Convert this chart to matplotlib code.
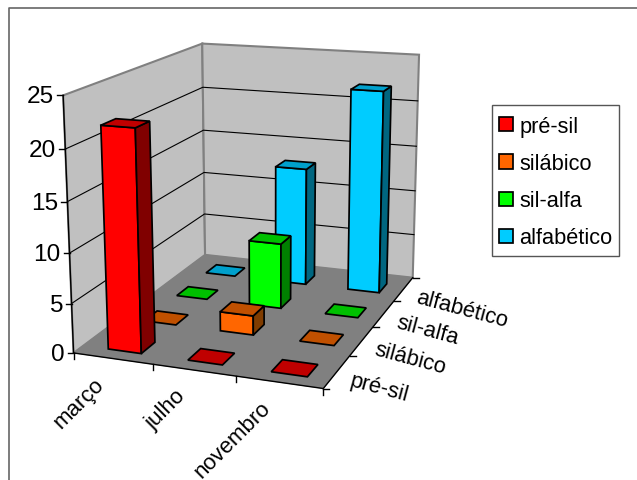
import numpy as np
import matplotlib
matplotlib.use("Agg")
import matplotlib.pyplot as plt
from matplotlib.patches import Polygon, Patch, Rectangle

plt.rcParams['font.family'] = ['Liberation Sans', 'DejaVu Sans']

months = ['março', 'julho', 'novembro']
levels = ['pré-sil', 'silábico', 'sil-alfa', 'alfabético']
z_ticks = [0, 5, 10, 15, 20, 25]

pre_sil = [22, 0, 0]
silabico = [0, 2, 0]
sil_alfa = [0, 7, 0]
alfabetico = [0, 13, 22]
series = [pre_sil, silabico, sil_alfa, alfabetico]

front_colors = ['#FF0000', '#FF6600', '#00FF00', '#00CCFF']
top_colors = ['#C00000', '#C05000', '#00C000', '#00A0CC']
side_colors = ['#800000', '#803C00', '#008000', '#006680']

Z_MAX = 25.0
BAR_W = 0.42
BAR_D = 0.38
# bars sit slightly off the cell centre
X_CENTER = 0.53
Y_CENTER = 0.44

# box corners on the canvas, in pixels: (x, y, z) -> (u, v)
corners = [
    ((0, 0, 0), (73, 354)), ((1, 0, 0), (323, 390)),
    ((0, 1, 0), (205, 256)), ((1, 1, 0), (413, 278)),
    ((0, 0, 1), (63, 96)), ((0, 1, 1), (202, 44)),
    ((1, 1, 1), (419, 56)),
    ((0, 0, 0.6), (68, 203)), ((0, 0, 0.2), (72, 304)),
    ((0, 1, 0.6), (203.5, 132)), ((0, 1, 0.2), (204.5, 215)),
]


def fit_camera(pairs):
    A, b = [], []
    for (x, y, z), (u, v) in pairs:
        A.append([x, y, z, 1, 0, 0, 0, 0, -u * x, -u * y, -u * z])
        A.append([0, 0, 0, 0, x, y, z, 1, -v * x, -v * y, -v * z])
        b += [u, v]
    m = np.linalg.lstsq(np.array(A, float), np.array(b, float), rcond=None)[0]
    return np.append(m, 1.0).reshape(3, 4)


P = fit_camera(corners)


def proj(x, y, z=0.0):
    h = P @ np.array([x, y, z, 1.0])
    return h[0] / h[2], h[1] / h[2]


def face(ax, pts, fc, ec='black', lw=1.25, zorder=2):
    ax.add_patch(Polygon([proj(*p) for p in pts], closed=True, facecolor=fc,
                         edgecolor=ec, linewidth=lw, joinstyle='miter', zorder=zorder))


fig = plt.figure(figsize=(6.37, 4.81), dpi=100)
ax = fig.add_axes([0, 0, 1, 1])
ax.set_xlim(0, 637)
ax.set_ylim(481, 0)
ax.axis('off')

# outer frame
ax.plot([9, 9, 637], [481, 9, 9], color='#666666', lw=1.2, zorder=1)

# walls and floor
face(ax, [(0, 0, 0), (0, 1, 0), (0, 1, 1), (0, 0, 1)], '#C0C0C0', ec='#808080', lw=1.5, zorder=1)
face(ax, [(0, 1, 0), (1, 1, 0), (1, 1, 1), (0, 1, 1)], '#C0C0C0', ec='#808080', lw=1.5, zorder=1)
face(ax, [(0, 0, 0), (1, 0, 0), (1, 1, 0), (0, 1, 0)], '#808080', ec='#808080', lw=0.5, zorder=1)

# gridlines on the two walls
for t in z_ticks[1:-1]:
    z = t / Z_MAX
    pts = [proj(0, 0, z), proj(0, 1, z), proj(1, 1, z)]
    ax.plot(*zip(*pts), color='black', lw=0.8, zorder=1.5)

# axis lines
ax.plot(*zip(proj(0, 0, 0), proj(0, 0, 1)), color='black', lw=1.0, zorder=1.6)
ax.plot(*zip(proj(0, 0, 0), proj(1, 0, 0), proj(1, 1, 0)), color='black', lw=1.0, zorder=1.6)

# value axis ticks and labels
for t in z_ticks:
    u, v = proj(0, 0, t / Z_MAX)
    ax.plot([u - 6, u], [v, v], color='black', lw=1.0, zorder=1.6)
    ax.text(u - 9, v + 1, str(t), ha='right', va='center', fontsize=17.6)

# month axis
for i in range(len(months) + 1):
    u, v = proj(i / len(months), 0)
    ax.plot([u, u], [v, v + 6], color='black', lw=1.0, zorder=1.6)
for i, name in enumerate(months):
    u, v = proj((i + 0.5) / len(months), 0)
    ax.text(u - 12, v + 22, name, rotation=45, rotation_mode='anchor',
            ha='right', va='center', fontsize=16)

# level axis
for j in range(len(levels) + 1):
    u, v = proj(1, j / len(levels))
    ax.plot([u, u + 6], [v, v], color='black', lw=1.0, zorder=1.6)
for j, name in enumerate(levels):
    u, v = proj(1, (j + 0.5) / len(levels))
    ax.text(u + 13, v + 8, name, rotation=-15, rotation_mode='anchor',
            ha='left', va='center', fontsize=15.8)

# bars, painted from the back row forward and left to right
order = 2.0
for j in reversed(range(len(levels))):
    for i in range(len(months)):
        h = series[j][i] / Z_MAX
        x0 = (i + X_CENTER - BAR_W / 2) / len(months)
        x1 = (i + X_CENTER + BAR_W / 2) / len(months)
        y0 = (j + Y_CENTER - BAR_D / 2) / len(levels)
        y1 = (j + Y_CENTER + BAR_D / 2) / len(levels)
        if h > 0:
            face(ax, [(x0, y0, 0), (x1, y0, 0), (x1, y0, h), (x0, y0, h)], front_colors[j], zorder=order)
            face(ax, [(x1, y0, 0), (x1, y1, 0), (x1, y1, h), (x1, y0, h)], side_colors[j], zorder=order)
        face(ax, [(x0, y0, h), (x1, y0, h), (x1, y1, h), (x0, y1, h)], top_colors[j], zorder=order)
        order += 0.01

# legend box
ax.add_patch(Rectangle((492, 106), 127, 151, facecolor='white', edgecolor='#555555', linewidth=1.0, zorder=5))
handles = [Patch(facecolor=c, edgecolor='black', linewidth=1.25, label=n)
           for c, n in zip(front_colors, levels)]
leg = ax.legend(handles=handles, loc='upper left', bbox_to_anchor=(499 / 637, 1 - 117 / 481),
                bbox_transform=ax.transAxes, fontsize=15.7, frameon=False, borderaxespad=0,
                borderpad=0, handlelength=0.62, handleheight=0.62, handletextpad=0.32,
                labelspacing=0.74)
leg.set_zorder(6)

fig.savefig('out.png', dpi=100)
